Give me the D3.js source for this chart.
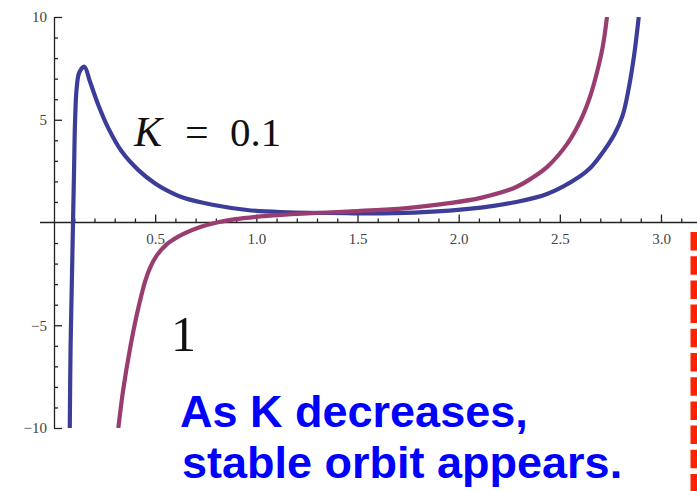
<!DOCTYPE html>
<html>
<head>
<meta charset="utf-8">
<script src="https://cdn.jsdelivr.net/npm/d3@7"></script>
<style>
  body { margin: 0; background: #fff; }
  svg { display: block; }
</style>
</head>
<body>
<div id="chart"></div>
<script>
// values ---------------------------------------------------------------------
const xMajor = [0.5, 1.0, 1.5, 2.0, 2.5, 3.0];
const yMajor = [-10, -5, 5, 10];

// K = 0.1 (blue)
const blueX = [0.078, 0.082, 0.088, 0.094, 0.099, 0.104, 0.112, 0.125, 0.15, 0.178, 0.219, 0.269, 0.335, 0.417, 0.5, 0.56, 0.64, 0.79, 0.954, 1.12, 1.45, 1.78, 2.11, 2.27, 2.44, 2.6, 2.65, 2.7, 2.77, 2.81, 2.84, 2.868, 2.89];
const blueY = [-10, -6, -3, 0, 2.47, 4.9, 6.53, 7.3, 7.58, 6.85, 5.72, 4.58, 3.45, 2.55, 1.9, 1.55, 1.2, 0.85, 0.61, 0.51, 0.45, 0.48, 0.72, 0.97, 1.4, 2.25, 2.65, 3.25, 4.3, 5.2, 6.5, 8.2, 10];

// K = 1 (magenta)
const redX = [0.318, 0.343, 0.376, 0.409, 0.45, 0.475, 0.508, 0.558, 0.591, 0.64, 0.723, 0.805, 0.888, 1.053, 1.25, 1.45, 1.614, 1.78, 1.944, 2.109, 2.274, 2.36, 2.439, 2.538, 2.604, 2.645, 2.67, 2.711, 2.733];
const redY = [-10, -8.07, -6.12, -4.5, -2.88, -2.2, -1.6, -1.05, -0.82, -0.55, -0.22, 0, 0.15, 0.32, 0.44, 0.53, 0.61, 0.74, 0.93, 1.2, 1.68, 2.15, 2.72, 3.85, 5.0, 6.0, 6.8, 8.5, 10];

const width = 697, height = 491;

const svg = d3.select('#chart')
    .append('svg')
    .attr('width', width)
    .attr('height', height);

const x = d3.scaleLinear().domain([0, 3]).range([54, 661]);
const y = d3.scaleLinear().domain([-10, 10]).range([428, 17]);

svg.append('clipPath').attr('id', 'plot')
  .append('rect')
    .attr('x', 0).attr('y', y(10))
    .attr('width', width).attr('height', y(-10) - y(10));

// minor tick positions every 0.1 (x) and every 1 (y)
const xMinor = d3.range(1, 32).map(i => i / 10).filter(v => Math.round(v * 10) % 5 !== 0);
const yMinor = d3.range(-9, 10).filter(v => v !== 0 && v % 5 !== 0);

const labelFont = '"Liberation Serif", "Times New Roman", serif';

// x axis ----------------------------------------------------------------------
const gx = svg.append('g').attr('transform', `translate(0,${y(0)})`);

gx.append('line')
    .attr('x1', 40).attr('x2', width)
    .attr('stroke', '#222').attr('stroke-width', 1.3);

gx.append('g')
    .call(d3.axisBottom(x).tickValues(xMinor).tickSizeInner(-4).tickSizeOuter(0).tickFormat(''))
    .call(g => g.select('.domain').remove());

gx.append('g')
    .call(d3.axisBottom(x).tickValues(xMajor).tickSizeInner(-8).tickSizeOuter(0)
        .tickPadding(11).tickFormat(d3.format('.1f')))
    .call(g => g.select('.domain').remove())
    .call(g => g.selectAll('text').attr('font-family', labelFont).attr('font-size', 15).attr('fill', '#444'));

gx.selectAll('.tick line').attr('stroke', '#222').attr('stroke-width', 1.3);

// y axis ----------------------------------------------------------------------
const gy = svg.append('g').attr('transform', `translate(${x(0)},0)`);

gy.append('g')
    .call(d3.axisLeft(y).tickValues(yMinor).tickSizeInner(-4).tickSizeOuter(0).tickFormat(''))
    .call(g => g.select('.domain').remove());

gy.append('g')
    .call(d3.axisLeft(y).tickValues(yMajor).tickSizeInner(-8).tickSizeOuter(0).tickPadding(7))
    .call(g => g.select('.domain').attr('stroke', '#222').attr('stroke-width', 1.3))
    .call(g => g.selectAll('text').attr('font-family', labelFont).attr('font-size', 15).attr('fill', '#444'));

gy.selectAll('.tick line').attr('stroke', '#222').attr('stroke-width', 1.3);

// curves ----------------------------------------------------------------------
const line = d3.line()
    .x(d => x(d[0]))
    .y(d => y(d[1]))
    .curve(d3.curveCatmullRom.alpha(0.5));

const curves = [
    { xs: blueX, ys: blueY, color: '#3d3d99' },
    { xs: redX, ys: redY, color: '#993d71' }
];

svg.append('g')
    .attr('clip-path', 'url(#plot)')
  .selectAll('path')
  .data(curves)
  .join('path')
    .attr('d', c => line(c.xs.map((v, i) => [v, c.ys[i]])))
    .attr('fill', 'none')
    .attr('stroke', c => c.color)
    .attr('stroke-width', 4.2)
    .attr('stroke-linejoin', 'round');

// labels ----------------------------------------------------------------------
const lab = svg.append('g')
    .attr('font-family', labelFont)
    .attr('fill', '#111');

lab.append('text').attr('x', 134).attr('y', 146)
    .attr('font-size', 42).attr('font-style', 'italic').text('K');
lab.append('text').attr('x', 185).attr('y', 146)
    .attr('font-size', 42).text('=');
lab.append('text').attr('x', 230).attr('y', 146)
    .attr('font-size', 41).text('0.1');
lab.append('text').attr('x', 171).attr('y', 351)
    .attr('font-size', 50).text('1');

// note text
const note = svg.append('g')
    .attr('font-family', '"Liberation Sans", Arial, sans-serif')
    .attr('font-weight', 'bold')
    .attr('font-size', 45)
    .attr('fill', '#0000ff');

note.append('text').attr('x', 180).attr('y', 427).text('As K decreases,');
note.append('text').attr('x', 182).attr('y', 478).text('stable orbit appears.');

// red dashed marker on the right edge
svg.append('line')
    .attr('x1', 694).attr('x2', 694)
    .attr('y1', 232).attr('y2', height)
    .attr('stroke', '#ff2200')
    .attr('stroke-width', 7)
    .attr('stroke-dasharray', '18.5 5.7');
</script>
</body>
</html>
